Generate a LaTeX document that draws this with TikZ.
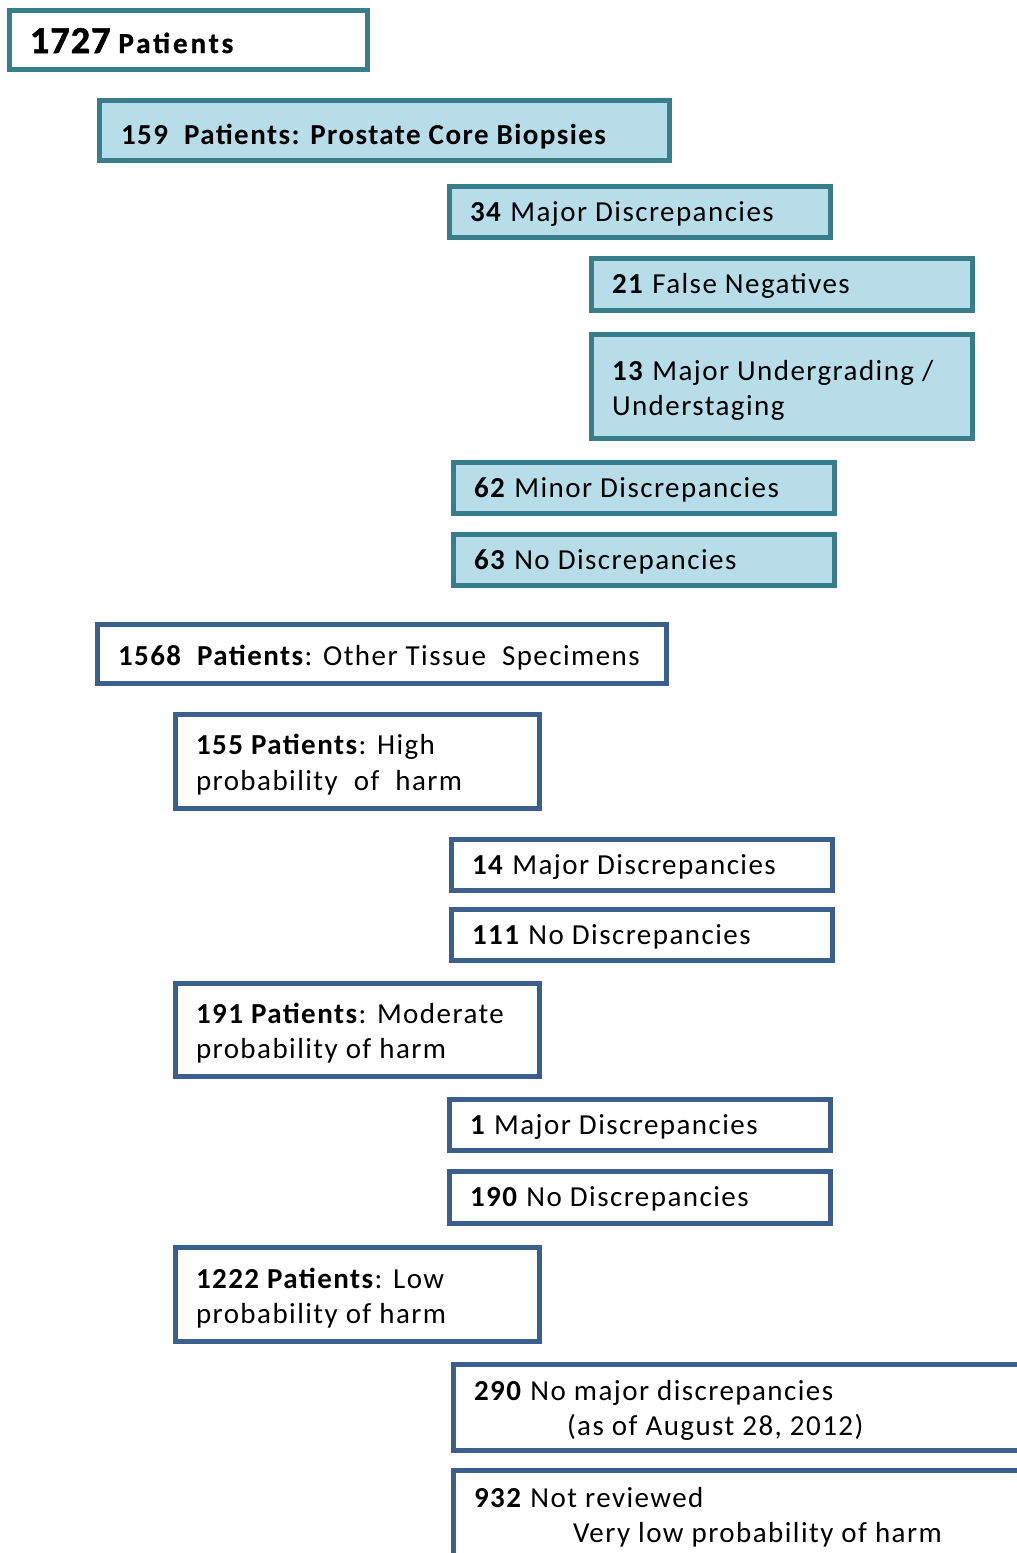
\documentclass[tikz,border=0pt]{standalone}
\usepackage{fontspec}
\setmainfont{Carlito}[LetterSpace=5]
\newfontfamily\heavy{Carlito}[UprightFont={* Bold},LetterSpace=3,FakeBold=1.5]
\newfontfamily\heavywide{Carlito}[UprightFont={* Bold},LetterSpace=10,FakeBold=1]
\definecolor{tealline}{HTML}{377D8C}
\definecolor{tealfill}{HTML}{B7DDE8}
\definecolor{blueline}{HTML}{3B5E8C}
\tikzset{
  tealbox/.style={rectangle, draw=tealline, fill=tealfill, line width=5pt, anchor=north west, inner sep=0pt, outer sep=0pt},
  tealwhite/.style={tealbox, fill=white},
  bluebox/.style={rectangle, draw=blueline, fill=white, line width=5pt, anchor=north west, inner sep=0pt, outer sep=0pt},
  lbl/.style={anchor=base west, inner sep=0pt, outer sep=0pt, font=\fontsize{29}{35}\selectfont, text=black}
}
\begin{document}
\begin{tikzpicture}[x=1pt,y=-1pt]
\useasboundingbox (0,0) rectangle (1017,1553);
\fill[white] (0,0) rectangle (1017,1553);
% boxes
\node[tealwhite, minimum width=358, minimum height=59] (b1) at (9.5,10.5) {};
\node[tealbox, minimum width=570, minimum height=60] (b2) at (99.5,100.5) {};
\node[tealbox, minimum width=381, minimum height=51] (b3) at (449.5,186.5) {};
\node[tealbox, minimum width=381, minimum height=52] (b4) at (591.5,258.5) {};
\node[tealbox, minimum width=381, minimum height=104] (b5) at (591.5,334.5) {};
\node[tealbox, minimum width=381, minimum height=51] (b6) at (453.5,462.5) {};
\node[tealbox, minimum width=381, minimum height=51] (b7) at (453.5,534.5) {};
\node[bluebox, minimum width=569, minimum height=59] (b8) at (97.5,624.5) {};
\node[bluebox, minimum width=364, minimum height=94] (b9) at (175.5,714.5) {};
\node[bluebox, minimum width=381, minimum height=51] (b10) at (451.5,839.5) {};
\node[bluebox, minimum width=381, minimum height=51] (b11) at (451.5,909.5) {};
\node[bluebox, minimum width=364, minimum height=93] (b12) at (175.5,983.5) {};
\node[bluebox, minimum width=381, minimum height=51] (b13) at (449.5,1099.5) {};
\node[bluebox, minimum width=381, minimum height=52] (b14) at (449.5,1171.5) {};
\node[bluebox, minimum width=364, minimum height=94] (b15) at (175.5,1247.5) {};
\node[bluebox, minimum width=600, minimum height=86] (b16) at (453.5,1364.5) {};
\node[bluebox, minimum width=600, minimum height=120] (b17) at (453.5,1470.5) {};
% labels
\node[lbl] (t1) at (30,53) {{\heavy\fontsize{38}{40}\selectfont 1727}\ {\heavywide Patients}};
\node[lbl] (t2) at (121,144) {\textbf{159\ \ Patients: Prostate Core Biopsies}};
\node[lbl] (t3) at (470,221) {\textbf{34} Major Discrepancies};
\node[lbl] (t4) at (612,293) {\textbf{21} False Negatives};
\node[lbl] (t5a) at (612,380) {\textbf{13} Major Undergrading /};
\node[lbl] (t5b) at (612,415) {Understaging};
\node[lbl] (t6) at (474,497) {\textbf{62} Minor Discrepancies};
\node[lbl] (t7) at (474,569) {\textbf{63} No Discrepancies};
\node[lbl] (t8) at (118,665) {\textbf{1568\ \ Patients}: Other Tissue\ \ Specimens};
\node[lbl] (t9a) at (196,754) {\textbf{155 Patients}: High};
\node[lbl] (t9b) at (196,790) {probability\ \ of\ \ harm};
\node[lbl] (t10) at (472,874) {\textbf{14} Major Discrepancies};
\node[lbl] (t11) at (472,944) {\textbf{111} No Discrepancies};
\node[lbl] (t12a) at (196,1023) {\textbf{191 Patients}: Moderate};
\node[lbl] (t12b) at (196,1058) {probability of harm};
\node[lbl] (t13) at (470,1134) {\textbf{1} Major Discrepancies};
\node[lbl] (t14) at (470,1206) {\textbf{190} No Discrepancies};
\node[lbl] (t15a) at (196,1288) {\textbf{1222 Patients}: Low};
\node[lbl] (t15b) at (196,1323) {probability of harm};
\node[lbl] (t16a) at (474,1400) {\textbf{290} No major discrepancies};
\node[lbl] (t16b) at (567,1435) {(as of August 28, 2012)};
\node[lbl] (t17a) at (474,1507) {\textbf{932} Not reviewed};
\node[lbl] (t17b) at (573,1542) {Very low probability of harm};
\end{tikzpicture}
\end{document}
